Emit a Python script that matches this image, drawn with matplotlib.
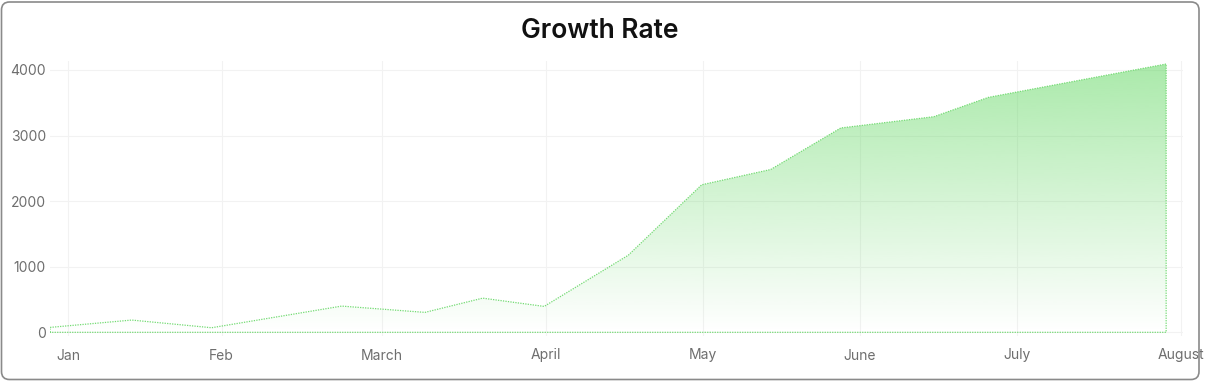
import matplotlib
matplotlib.use("Agg")
import matplotlib.pyplot as plt
import numpy as np
from matplotlib.patches import FancyBboxPatch, Polygon

plt.rcParams['font.family'] = ['Inter', 'DejaVu Sans']

# ---- data ----
title = "Growth Rate"
month_labels = ["Jan", "Feb", "March", "April", "May", "June", "July", "August"]
month_ticks = [0.0, 0.965, 1.973, 3.005, 3.993, 4.980, 5.966, 7.0]
x_vals = [-0.115, 0.399, 0.902, 1.720, 2.244, 2.607, 2.994, 3.523,
          3.985, 4.419, 4.860, 5.446, 5.788, 6.907]
y_vals = [75, 187, 70, 400, 304, 521, 395, 1175,
          2249, 2482, 3115, 3287, 3581, 4090]
y_ticks = [0, 1000, 2000, 3000, 4000]

W, H = 1207, 381
fig = plt.figure(figsize=(W / 100, H / 100), dpi=100)
ax = fig.add_axes([50 / W, 1 - 336 / H, (1183 - 50) / W, (336 - 61) / H])

xmin, xmax = -0.115, 7.013
ymin, ymax = -56, 4136
ax.set_xlim(xmin, xmax)
ax.set_ylim(ymin, ymax)

green = np.array([92, 214, 92]) / 255.0

# polygon outline of area (including baseline)
xs = np.array(x_vals)
ys = np.array(y_vals)
poly_x = np.concatenate([[xs[0]], xs, [xs[-1]], [xs[0]]])
poly_y = np.concatenate([[0], ys, [0], [0]])
poly = Polygon(np.column_stack([poly_x, poly_y]), closed=True,
               facecolor='none', edgecolor='none')
ax.add_patch(poly)

# gradient fill
n = 256
alpha = np.linspace(0.0, 0.52, n)[:, None]
grad = np.zeros((n, 1, 4))
grad[..., 0] = green[0]
grad[..., 1] = green[1]
grad[..., 2] = green[2]
grad[..., 3] = alpha
im = ax.imshow(grad, extent=[xs[0], xs[-1], 0, ys.max()], origin='lower',
               aspect='auto', interpolation='bicubic', zorder=2)
im.set_clip_path(poly)

# dotted outline
ax.plot(poly_x, poly_y, color=(0.45, 0.86, 0.45), lw=0.9,
        linestyle=(0, (1, 1)), zorder=3)

# grid
ax.set_xticks(month_ticks)
ax.set_xticklabels(month_labels)
ax.set_yticks(y_ticks)
ax.set_yticklabels([str(v) for v in y_ticks])
ax.grid(True, color='#f2f2f2', lw=0.8, zorder=0)
ax.set_axisbelow(True)
for s in ax.spines.values():
    s.set_visible(False)
ax.tick_params(axis='both', length=0, labelsize=10, colors='#6e6e6e')
ax.tick_params(axis='x', pad=9)
ax.tick_params(axis='y', pad=3)

fig.text(600 / W, 1 - 31 / H, title, ha='center', va='center',
         fontsize=19, fontweight='semibold', color='#111111')

# rounded border
border = FancyBboxPatch((1.5, 1.5), 1197.5, 377.5,
                        boxstyle="round,pad=0,rounding_size=8",
                        transform=None, facecolor='none',
                        edgecolor='#8a8a8a', lw=1.2, zorder=10)
fig.patches.append(border)

fig.savefig("out.png", dpi=100)
